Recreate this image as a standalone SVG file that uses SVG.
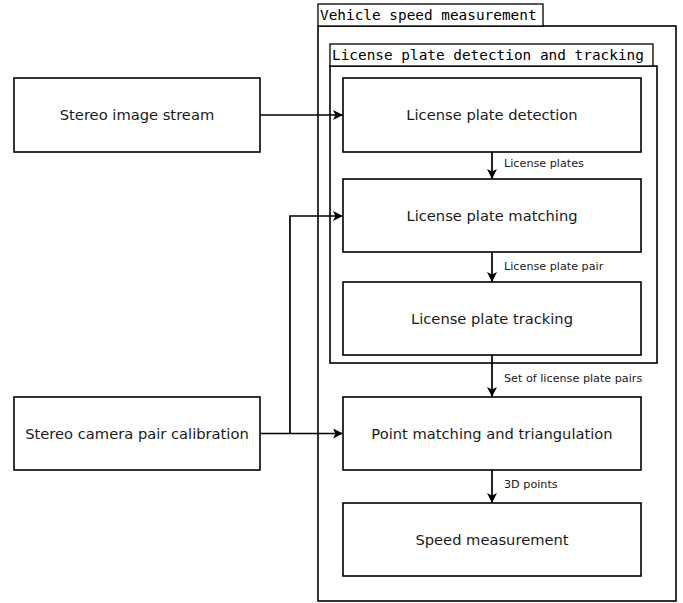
<svg xmlns="http://www.w3.org/2000/svg" width="683" height="603" viewBox="0 0 683 603">
<style>
.box{fill:#fff;stroke:#000;stroke-width:1.6}
.grp{fill:none;stroke:#000;stroke-width:1.6}
.tab{fill:#fff;stroke:#000;stroke-width:1.3}
.t{font-family:"DejaVu Sans",sans-serif;font-size:14.7px;fill:#1a1a1a;text-anchor:middle}
.m{font-family:"DejaVu Sans Mono",monospace;font-size:14.4px;fill:#000}
.l{font-family:"DejaVu Sans",sans-serif;font-size:11.2px;fill:#1a1a1a}
.c{fill:none;stroke:#000;stroke-width:1.7}
</style>
<defs>
<marker id="ah" viewBox="0 0 10 10" refX="10" refY="5" markerWidth="11" markerHeight="10" markerUnits="userSpaceOnUse" orient="auto">
<path d="M0,0 L10,5 L0,10 L2.5,5 Z" fill="#000"/>
</marker>
</defs>
<g id="vehicle-speed-measurement">
<rect class="grp" x="318" y="26" width="358" height="575"/>
<rect class="tab" x="318" y="4" width="225" height="22"/>
<text class="m" x="320" y="20">Vehicle speed measurement</text>
</g>
<g id="license-plate-detection-and-tracking">
<rect class="grp" x="330" y="66" width="327" height="297"/>
<rect class="tab" x="330" y="44" width="323" height="22"/>
<text class="m" x="332" y="60">License plate detection and tracking</text>
</g>
<g id="stereo-image-stream">
<rect class="box" x="14" y="78" width="246" height="74"/>
<text class="t" x="137" y="120">Stereo image stream</text>
</g>
<g id="stereo-camera-pair-calibration">
<rect class="box" x="14" y="397" width="246" height="73"/>
<text class="t" x="137" y="438.5">Stereo camera pair calibration</text>
</g>
<g id="license-plate-detection">
<rect class="box" x="343" y="78" width="298" height="74"/>
<text class="t" x="492" y="120">License plate detection</text>
</g>
<g id="license-plate-matching">
<rect class="box" x="343" y="179" width="298" height="73"/>
<text class="t" x="492" y="220.5">License plate matching</text>
</g>
<g id="license-plate-tracking">
<rect class="box" x="343" y="282" width="298" height="73"/>
<text class="t" x="492" y="323.5">License plate tracking</text>
</g>
<g id="point-matching-and-triangulation">
<rect class="box" x="343" y="397" width="298" height="73"/>
<text class="t" x="492" y="438.5">Point matching and triangulation</text>
</g>
<g id="speed-measurement">
<rect class="box" x="343" y="503" width="298" height="73"/>
<text class="t" x="492" y="544.5">Speed measurement</text>
</g>
<g id="connectors">
<path class="c" d="M260,115 H343" marker-end="url(#ah)"/>
<path class="c" d="M260,433.5 H343" marker-end="url(#ah)"/>
<path class="c" d="M290,433.5 V216 H343" marker-end="url(#ah)"/>
<path class="c" d="M492,152 V179" marker-end="url(#ah)"/>
<path class="c" d="M492,252 V282" marker-end="url(#ah)"/>
<path class="c" d="M492,355 V397" marker-end="url(#ah)"/>
<path class="c" d="M492,470 V503" marker-end="url(#ah)"/>
<text class="l" x="504" y="167">License plates</text>
<text class="l" x="504" y="269.5">License plate pair</text>
<text class="l" x="504" y="382">Set of license plate pairs</text>
<text class="l" x="504" y="488">3D points</text>
</g>
</svg>
